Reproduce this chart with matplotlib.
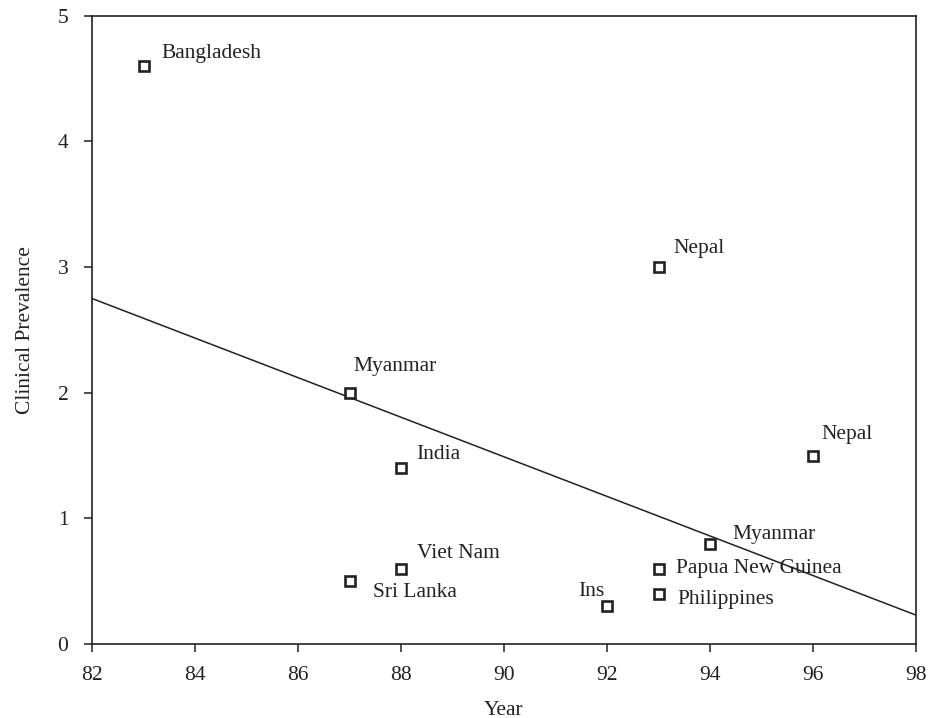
import matplotlib
matplotlib.use("Agg")
import matplotlib.pyplot as plt

plt.rcParams['font.family'] = ['Liberation Serif', 'DejaVu Serif']

# survey year vs clinical prevalence, one point per survey
countries = ['Bangladesh', 'Nepal', 'Myanmar', 'India', 'Nepal', 'Myanmar',
             'Viet Nam', 'Sri Lanka', 'Papua New Guinea', 'Philippines', 'Ins']
years = [83, 93, 87, 88, 96, 94, 88, 87, 93, 93, 92]
prevalence = [4.6, 3.0, 2.0, 1.4, 1.5, 0.8, 0.6, 0.5, 0.6, 0.4, 0.3]

# fitted trend line end points
trend_x = [82, 98]
trend_y = [2.75, 0.23]

# label offsets (pixels) and horizontal alignment per point
offsets = [(18, 8), (15, 14), (4, 22), (15, 9), (8, 17), (22, 5),
           (16, 11), (23, -16), (17, -4), (19, -10), (-3, 10)]
aligns = ['left'] * 10 + ['right']

fs = 15.5

fig = plt.figure(figsize=(9.3, 7.18), dpi=100)
ax = fig.add_axes([0.099, 0.103, 0.886, 0.875])

ax.plot(trend_x, trend_y, '-', color='#222222', lw=1.1)
ax.plot(years, prevalence, 's', ms=7, mfc='white', mec='#222222', mew=1.9)

for name, x, y, off, ha in zip(countries, years, prevalence, offsets, aligns):
    ax.annotate(name, (x, y), xytext=off, textcoords='offset pixels',
                ha=ha, va='baseline', fontsize=fs, color='#222222')

ax.set_xlim(82, 98)
ax.set_ylim(0, 5)
ax.set_xticks(range(82, 99, 2))
ax.set_yticks(range(0, 6))
ax.tick_params(direction='out', length=6, width=1.1, labelsize=fs,
               colors='#222222', pad=10, top=False, right=False)
ax.tick_params(axis='y', pad=11)
for s in ax.spines.values():
    s.set_linewidth(1.2)
    s.set_color('#222222')

ax.set_xlabel('Year', fontsize=fs, color='#222222', labelpad=11)
ax.set_ylabel('Clinical Prevalence', fontsize=fs, color='#222222', labelpad=16)

fig.savefig('out.png', dpi=100)
